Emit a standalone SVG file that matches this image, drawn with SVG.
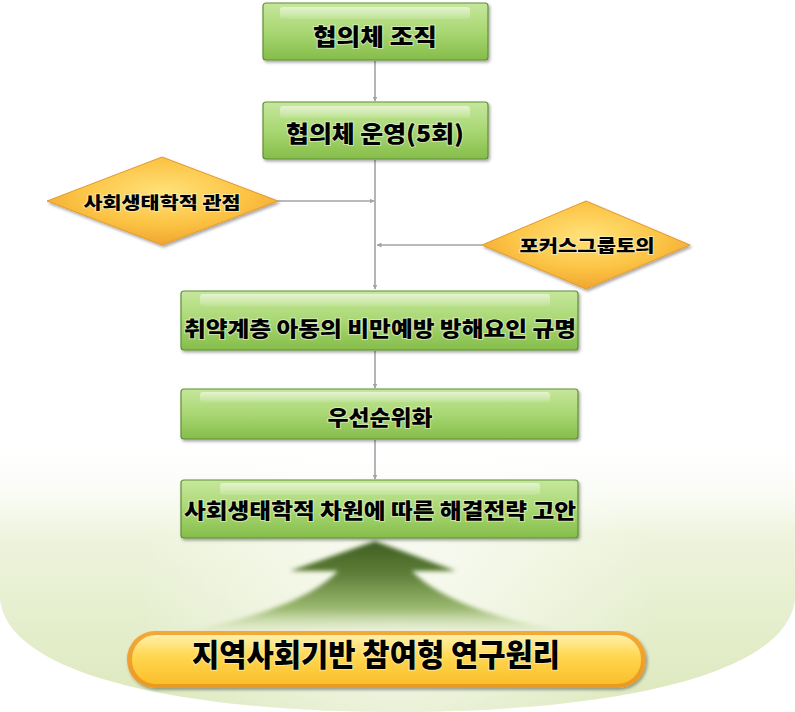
<svg xmlns="http://www.w3.org/2000/svg" width="795" height="712" viewBox="0 0 795 712">
<style>
.t{font-family:"Noto Sans CJK KR","Noto Sans",sans-serif;font-weight:900;fill:#000;text-anchor:middle;paint-order:stroke;stroke:#f4fbe6;stroke-opacity:0.55;stroke-width:2px}
.box{fill:url(#gGreen);stroke:#5f8f35;stroke-width:1.2;filter:url(#sh)}
.hl{fill:url(#gHl)}
.dia{fill:url(#gOrange);stroke:#e39a2a;stroke-width:1;filter:url(#sh)}
.c{stroke:#a3a3a3;stroke-width:1.6;fill:none;marker-end:url(#ah)}
</style>
<defs>
<linearGradient id="gGreen" x1="0" y1="0" x2="0" y2="1">
<stop offset="0" stop-color="#c6e79c"/>
<stop offset="0.5" stop-color="#a9d773"/>
<stop offset="1" stop-color="#85bd4a"/>
</linearGradient>
<linearGradient id="gHl" x1="0" y1="0" x2="0" y2="1">
<stop offset="0" stop-color="#ffffff" stop-opacity="0.55"/>
<stop offset="1" stop-color="#ffffff" stop-opacity="0.1"/>
</linearGradient>
<radialGradient id="gOrange" cx="0.5" cy="0.4" r="0.6">
<stop offset="0" stop-color="#ffe27a"/>
<stop offset="0.6" stop-color="#fcc445"/>
<stop offset="1" stop-color="#f0a530"/>
</radialGradient>
<linearGradient id="gBowl" x1="0" y1="440" x2="0" y2="712" gradientUnits="userSpaceOnUse">
<stop offset="0" stop-color="#ffffff" stop-opacity="0"/>
<stop offset="0.35" stop-color="#eef4dd"/>
<stop offset="1" stop-color="#dce8bc"/>
</linearGradient>
<radialGradient id="gBowlHi" cx="397" cy="600" r="260" gradientUnits="userSpaceOnUse">
<stop offset="0" stop-color="#ffffff" stop-opacity="0.7"/>
<stop offset="1" stop-color="#ffffff" stop-opacity="0"/>
</radialGradient>
<linearGradient id="gArrow" x1="0" y1="541" x2="0" y2="632" gradientUnits="userSpaceOnUse">
<stop offset="0" stop-color="#3f5e22"/>
<stop offset="0.35" stop-color="#5c7d36"/>
<stop offset="0.75" stop-color="#9dba72"/>
<stop offset="1" stop-color="#dfeac6" stop-opacity="0.4"/>
</linearGradient>
<linearGradient id="gPillOut" x1="0" y1="0" x2="0" y2="1">
<stop offset="0" stop-color="#f3a83a"/>
<stop offset="1" stop-color="#e99a22"/>
</linearGradient>
<linearGradient id="gPillIn" x1="0" y1="0" x2="0" y2="1">
<stop offset="0" stop-color="#fff0a8"/>
<stop offset="0.45" stop-color="#ffd64e"/>
<stop offset="1" stop-color="#fbbf2a"/>
</linearGradient>
<filter id="sh" x="-10%" y="-20%" width="120%" height="150%">
<feDropShadow dx="1.5" dy="2" stdDeviation="1.5" flood-color="#000" flood-opacity="0.35"/>
</filter>
<filter id="blur" x="-20%" y="-20%" width="140%" height="140%">
<feGaussianBlur stdDeviation="2"/>
</filter>
<marker id="ah" viewBox="0 0 10 10" refX="9" refY="5" markerWidth="5" markerHeight="5" orient="auto" markerUnits="userSpaceOnUse">
<path d="M0,0 L10,5 L0,10 Z" fill="#a3a3a3"/>
</marker>
</defs>

<g id="background">
<path d="M0,440 L0,600 C10,680 200,712 397,712 C595,712 785,680 795,600 L795,440 Z" fill="url(#gBowl)"/>
<path d="M0,440 L0,600 C10,680 200,712 397,712 C595,712 785,680 795,600 L795,440 Z" fill="url(#gBowlHi)"/>
</g>

<g id="connectors">
<line class="c" x1="375" y1="61" x2="375" y2="101"/>
<line class="c" x1="375" y1="160" x2="375" y2="289"/>
<line class="c" x1="278" y1="201" x2="374" y2="201"/>
<line class="c" x1="482" y1="245" x2="377" y2="245"/>
<line class="c" x1="375" y1="351" x2="375" y2="388"/>
<line class="c" x1="375" y1="440" x2="375" y2="479"/>
</g>

<g id="up-arrow">
<path d="M375,541 L456,571 L412,571 C440,600 500,620 570,632 L180,632 C250,620 310,600 338,571 L290,571 Z" fill="url(#gArrow)" filter="url(#blur)"/>
</g>

<g id="n1">
<rect class="box" x="263" y="3" width="225" height="57" rx="3"/>
<rect class="hl" x="280" y="7" width="190" height="12" rx="3"/>
<text class="t" x="375" y="45" font-size="23" textLength="124" lengthAdjust="spacingAndGlyphs">협의체 조직</text>
</g>

<g id="n2">
<rect class="box" x="263" y="102" width="225" height="57" rx="3"/>
<rect class="hl" x="280" y="106" width="190" height="12" rx="3"/>
<text class="t" x="375" y="142" font-size="23" textLength="178" lengthAdjust="spacingAndGlyphs">협의체 운영(5회)</text>
</g>

<g id="d1">
<polygon class="dia" points="162,157 278,201 162,245 47,201"/>
<text class="t" x="162" y="209" font-size="17" textLength="157" lengthAdjust="spacingAndGlyphs">사회생태학적 관점</text>
</g>

<g id="d2">
<polygon class="dia" points="586,201 690,245 586,289 482,245"/>
<text class="t" x="587" y="252" font-size="17" textLength="135" lengthAdjust="spacingAndGlyphs">포커스그룹토의</text>
</g>

<g id="n3">
<rect class="box" x="181" y="291" width="397" height="59" rx="3"/>
<rect class="hl" x="200" y="294" width="350" height="12" rx="3"/>
<text class="t" x="380" y="336" font-size="21" textLength="392" lengthAdjust="spacingAndGlyphs">취약계층 아동의 비만예방 방해요인 규명</text>
</g>

<g id="n4">
<rect class="box" x="181" y="389" width="397" height="50" rx="3"/>
<rect class="hl" x="200" y="392" width="350" height="10" rx="3"/>
<text class="t" x="380" y="425" font-size="21" textLength="105" lengthAdjust="spacingAndGlyphs">우선순위화</text>
</g>

<g id="n5">
<rect class="box" x="181" y="480" width="397" height="58" rx="3"/>
<rect class="hl" x="220" y="483" width="320" height="12" rx="3"/>
<text class="t" x="380" y="518" font-size="21" textLength="392" lengthAdjust="spacingAndGlyphs">사회생태학적 차원에 따른 해결전략 고안</text>
</g>

<g id="n6">
<rect x="127" y="631" width="519" height="57" rx="28" fill="url(#gPillOut)" filter="url(#sh)"/>
<rect x="132" y="635" width="509" height="49" rx="24" fill="url(#gPillIn)"/>
<text class="t" x="376" y="666" font-size="31" textLength="368" lengthAdjust="spacingAndGlyphs">지역사회기반 참여형 연구원리</text>
</g>
</svg>
